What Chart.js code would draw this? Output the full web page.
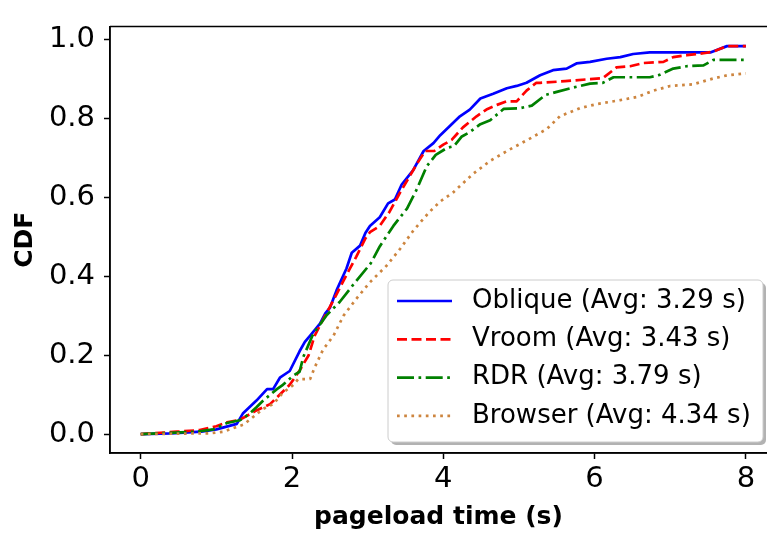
<!DOCTYPE html>
<html>
<head>
<meta charset="utf-8">
<script src="https://cdn.jsdelivr.net/npm/chart.js@4.4.1/dist/chart.umd.min.js"></script>
<style>
    html, body { margin: 0; padding: 0; background: #fff; }
    canvas { display: block; }
</style>
</head>
<body>
<canvas id="cdf-chart" width="767" height="533"></canvas>
<script>
var seriesNames = ['Oblique (Avg: 3.29 s)', 'Vroom (Avg: 3.43 s)', 'RDR (Avg: 3.79 s)', 'Browser (Avg: 4.34 s)'];

var obliqueX = [0, 0.4, 0.8, 1.0, 1.27, 1.35, 1.53, 1.67, 1.75, 1.84, 1.97, 2.1, 2.17, 2.24, 2.37, 2.44, 2.5, 2.59, 2.72, 2.79, 2.9, 2.97, 3.03, 3.16, 3.27, 3.36, 3.45, 3.6, 3.74, 3.87, 3.96, 4.09, 4.22, 4.35, 4.49, 4.66, 4.84, 4.97, 5.1, 5.28, 5.45, 5.63, 5.76, 5.94, 6.16, 6.34, 6.51, 6.73, 7.53, 7.75, 8.0];
var obliqueY = [0, 0.002, 0.006, 0.012, 0.026, 0.052, 0.085, 0.114, 0.114, 0.143, 0.16, 0.21, 0.234, 0.25, 0.28, 0.306, 0.32, 0.365, 0.42, 0.46, 0.478, 0.51, 0.528, 0.55, 0.585, 0.595, 0.633, 0.669, 0.718, 0.738, 0.758, 0.782, 0.806, 0.823, 0.851, 0.863, 0.877, 0.883, 0.891, 0.91, 0.923, 0.927, 0.94, 0.944, 0.952, 0.956, 0.964, 0.968, 0.968, 0.984, 0.984];

var vroomX = [0, 0.48, 0.78, 1.0, 1.14, 1.31, 1.53, 1.71, 1.8, 1.97, 2.1, 2.22, 2.3, 2.41, 2.59, 2.74, 2.85, 2.97, 3.03, 3.16, 3.29, 3.43, 3.54, 3.65, 3.76, 3.88, 4.0, 4.11, 4.26, 4.44, 4.57, 4.71, 4.84, 4.97, 5.1, 5.23, 5.28, 5.61, 6.11, 6.29, 6.47, 6.64, 6.91, 7.04, 7.22, 7.44, 7.57, 7.75, 8.0];
var vroomY = [0, 0.006, 0.01, 0.02, 0.03, 0.036, 0.06, 0.076, 0.093, 0.125, 0.161, 0.2, 0.25, 0.29, 0.355, 0.411, 0.45, 0.496, 0.512, 0.528, 0.564, 0.613, 0.649, 0.685, 0.718, 0.718, 0.734, 0.746, 0.778, 0.806, 0.823, 0.835, 0.844, 0.844, 0.871, 0.891, 0.891, 0.895, 0.903, 0.93, 0.933, 0.941, 0.944, 0.956, 0.961, 0.966, 0.97, 0.984, 0.984];

var rdrX = [0, 0.74, 0.96, 1.14, 1.31, 1.44, 1.53, 1.62, 1.8, 1.88, 2.02, 2.1, 2.15, 2.28, 2.46, 2.63, 2.81, 3.04, 3.16, 3.34, 3.52, 3.65, 3.78, 3.9, 4.05, 4.14, 4.24, 4.35, 4.49, 4.62, 4.8, 5.0, 5.17, 5.35, 5.5, 5.72, 5.94, 6.11, 6.25, 6.73, 6.86, 7.04, 7.22, 7.44, 7.57, 8.0];
var rdrY = [0, 0.006, 0.012, 0.028, 0.035, 0.052, 0.068, 0.085, 0.114, 0.125, 0.149, 0.158, 0.196, 0.254, 0.302, 0.335, 0.379, 0.433, 0.476, 0.528, 0.572, 0.621, 0.679, 0.708, 0.726, 0.73, 0.754, 0.766, 0.786, 0.796, 0.825, 0.826, 0.833, 0.86, 0.868, 0.879, 0.889, 0.891, 0.905, 0.905, 0.911, 0.927, 0.933, 0.935, 0.949, 0.949];

var browserX = [0, 0.92, 1.09, 1.22, 1.36, 1.49, 1.62, 1.75, 1.88, 2.02, 2.08, 2.24, 2.3, 2.41, 2.55, 2.68, 2.85, 3.03, 3.25, 3.43, 3.6, 3.71, 3.82, 3.96, 4.13, 4.4, 4.62, 4.88, 5.15, 5.37, 5.54, 5.81, 6.03, 6.34, 6.56, 6.78, 7.0, 7.3, 7.57, 7.75, 8.0];
var browserY = [0, 0.002, 0.006, 0.015, 0.024, 0.044, 0.064, 0.076, 0.105, 0.125, 0.139, 0.14, 0.169, 0.214, 0.25, 0.3, 0.343, 0.385, 0.427, 0.47, 0.515, 0.54, 0.564, 0.59, 0.613, 0.661, 0.693, 0.722, 0.75, 0.774, 0.806, 0.827, 0.837, 0.847, 0.855, 0.871, 0.883, 0.887, 0.902, 0.91, 0.915];

var xTicks = [0, 2, 4, 6, 8];
var yTicks = [0, 0.2, 0.4, 0.6, 0.8, 1.0];

var CdfChart;

function toPoints(xs, ys) {
    return xs.map(function (x, i) {
        return { x: x, y: ys[i] };
    });
}

// top spine, matplotlib style box
var framePlugin = {
    id: 'frame',
    afterDatasetsDraw: function (chart) {
        var ctx = chart.ctx;
        var a = chart.chartArea;
        ctx.save();
        ctx.strokeStyle = '#000';
        ctx.lineWidth = 1.5;
        ctx.beginPath();
        ctx.moveTo(a.left, a.top);
        ctx.lineTo(a.right, a.top);
        ctx.moveTo(a.left, a.top);
        ctx.lineTo(a.left, a.bottom);
        ctx.lineTo(a.right, a.bottom);
        ctx.stroke();
        ctx.restore();
    }
};

// legend box in the lower right of the plot
var legendBoxPlugin = {
    id: 'legendBox',
    afterDraw: function (chart) {
        var ctx = chart.ctx;
        var x = 388, y = 280, w = 375, h = 162, r = 5;
        ctx.save();

        ctx.fillStyle = 'rgba(0, 0, 0, 0.3)';
        ctx.beginPath();
        ctx.roundRect(x + 3, y + 3, w, h, r);
        ctx.fill();

        ctx.fillStyle = '#fff';
        ctx.strokeStyle = '#cccccc';
        ctx.lineWidth = 1;
        ctx.beginPath();
        ctx.roundRect(x, y, w, h, r);
        ctx.fill();
        ctx.stroke();

        ctx.font = '26px "DejaVu Sans"';
        ctx.textBaseline = 'middle';
        ctx.fillStyle = '#000';
        chart.data.datasets.forEach(function (ds, i) {
            var rowY = 301 + i * 38.3;
            ctx.strokeStyle = ds.borderColor;
            ctx.lineWidth = ds.borderWidth;
            ctx.lineCap = 'butt';
            ctx.setLineDash(ds.borderDash || []);
            ctx.beginPath();
            ctx.moveTo(397, rowY);
            ctx.lineTo(452, rowY);
            ctx.stroke();
            ctx.setLineDash([]);
            ctx.fillText(ds.label, 472, rowY);
        });
        ctx.restore();
    }
};

function LoadCdfChart() {
    var ctx = document.getElementById('cdf-chart');
    var tickFont = { family: 'DejaVu Sans', size: 29 };
    var titleFont = { family: 'DejaVu Sans', size: 25, weight: 'bold' };

    var line = function (label, xs, ys, color, dash, order) {
        return {
            label: label,
            data: toPoints(xs, ys),
            borderColor: color,
            backgroundColor: color,
            borderWidth: 2.7,
            borderDash: dash,
            borderCapStyle: 'butt',
            borderJoinStyle: 'round',
            pointRadius: 0,
            tension: 0,
            fill: false,
            order: order
        };
    };

    CdfChart = new Chart(ctx, {
        type: 'line',
        data: {
            datasets: [
                line(seriesNames[0], obliqueX, obliqueY, '#0000ff', [], 4),
                line(seriesNames[1], vroomX, vroomY, '#ff0000', [10, 4.5], 3),
                line(seriesNames[2], rdrX, rdrY, '#008000', [17, 4.5, 2.7, 4.5], 2),
                line(seriesNames[3], browserX, browserY, '#cd853f', [2.7, 4.5], 1)
            ]
        },
        plugins: [framePlugin, legendBoxPlugin],
        options: {
            responsive: false,
            animation: false,
            layout: { padding: { top: 6, right: 0, bottom: 0, left: 0 } },
            plugins: {
                legend: { display: false },
                tooltip: { enabled: false }
            },
            scales: {
                x: {
                    type: 'linear',
                    min: -0.406,
                    max: 8.279,
                    afterBuildTicks: function (scale) {
                        scale.ticks = xTicks.map(function (v) { return { value: v }; });
                    },
                    afterFit: function (scale) { scale.height = 80; },
                    grid: { drawOnChartArea: false, drawTicks: true, tickLength: 6, tickWidth: 1.5, tickColor: '#000' },
                    border: { display: true, color: '#000', width: 1.5 },
                    ticks: { color: '#000', font: tickFont, padding: 3, maxRotation: 0, autoSkip: false },
                    title: { display: true, text: 'pageload time (s)', color: '#000', font: titleFont, padding: { top: 0, bottom: 1 } }
                },
                y: {
                    type: 'linear',
                    min: -0.048,
                    max: 1.034,
                    afterBuildTicks: function (scale) {
                        scale.ticks = yTicks.map(function (v) { return { value: v }; });
                    },
                    afterFit: function (scale) { scale.width = 110; },
                    grid: { drawOnChartArea: false, drawTicks: true, tickLength: 6, tickWidth: 1.5, tickColor: '#000' },
                    border: { display: true, color: '#000', width: 1.5 },
                    ticks: {
                        color: '#000',
                        font: tickFont,
                        padding: 9,
                        autoSkip: false,
                        callback: function (v) { return Number(v).toFixed(1); }
                    },
                    title: { display: true, text: 'CDF', color: '#000', font: titleFont, padding: { top: 10, bottom: 0 } }
                }
            }
        }
    });
}

LoadCdfChart();
</script>
</body>
</html>
